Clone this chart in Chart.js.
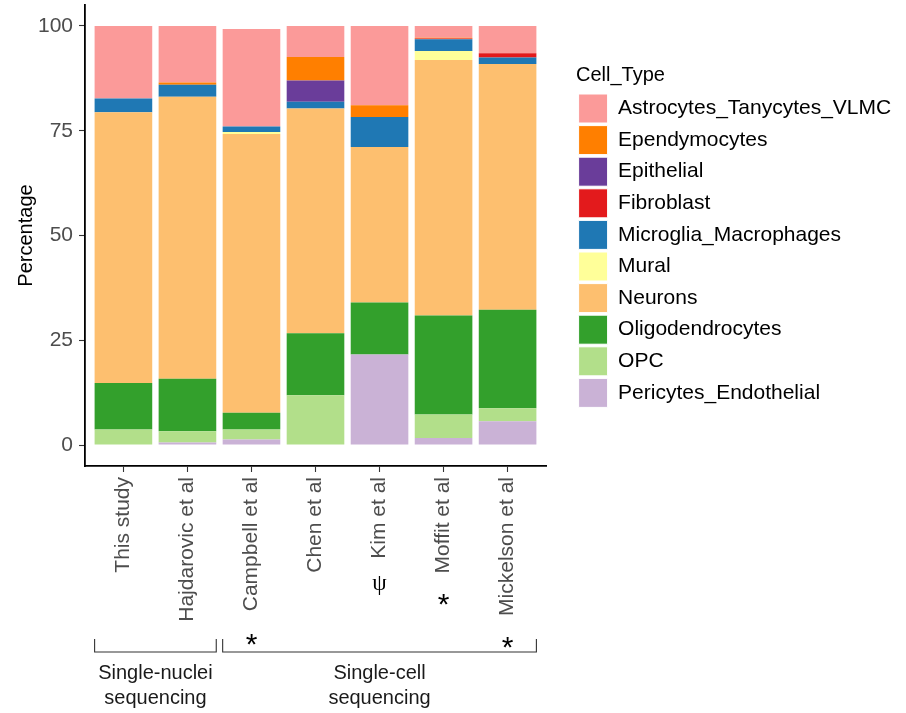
<!DOCTYPE html>
<html>
<head>
<meta charset="utf-8">
<script src="https://cdn.jsdelivr.net/npm/chart.js@4.4.1/dist/chart.umd.min.js"></script>
<style>
  html, body { margin: 0; padding: 0; background: #ffffff; }
  #wrap { position: relative; width: 906px; height: 713px; }
</style>
</head>
<body>
<div id="wrap"><canvas id="cellTypes" width="906" height="713"></canvas></div>
<script>
// Studies along the x axis
const studies = ['This study', 'Hajdarovic et al', 'Campbell et al', 'Chen et al', 'Kim et al', 'Moffit et al', 'Mickelson et al'];

// Percentage of cells per type in each study (bottom of the stack first)
const pericytesEndothelial    = [0,    0.6,  1.3,  0,    21.6, 1.7,  5.7];
const opc                     = [3.7,  2.7,  2.4,  11.9, 0,    5.6,  3.1];
const oligodendrocytes        = [11.1, 12.5, 4.0,  14.8, 12.4, 23.6, 23.5];
const neurons                 = [64.6, 67.3, 66.5, 53.6, 37.1, 61.0, 58.6];
const mural                   = [0,    0,    0.5,  0,    0,    2.1,  0];
const microgliaMacrophages    = [3.3,  2.9,  1.3,  1.6,  7.2,  2.8,  1.6];
const fibroblast              = [0,    0,    0,    0,    0,    0.2,  1.0];
const epithelial              = [0,    0,    0,    5.1,  0,    0,    0];
const ependymocytes           = [0,    0.5,  0,    5.6,  2.8,  0.2,  0];
const astrocytesTanycytesVLMC = [17.3, 13.5, 23.3, 7.4,  18.9, 2.8,  6.5];

const yTicks = [0, 25, 50, 75, 100];

// Footnote symbols under the study names
const studyMarks = ['', '', '*', '', 'ψ', '*', '*'];

// Sequencing groups (first and last study index)
const groupLabels = [['Single-nuclei', 'sequencing'], ['Single-cell', 'sequencing']];
const groupFirst = [0, 2];
const groupLast  = [1, 6];

// Brewer "Paired" colours
const palette = {
  'Pericytes_Endothelial': '#CAB2D6',
  'OPC': '#B2DF8A',
  'Oligodendrocytes': '#33A02C',
  'Neurons': '#FDBF6F',
  'Mural': '#FFFF99',
  'Microglia_Macrophages': '#1F78B4',
  'Fibroblast': '#E31A1C',
  'Epithelial': '#6A3D9A',
  'Ependymocytes': '#FF7F00',
  'Astrocytes_Tanycytes_VLMC': '#FB9A99'
};

const stackOrder = [
  ['Pericytes_Endothelial', pericytesEndothelial],
  ['OPC', opc],
  ['Oligodendrocytes', oligodendrocytes],
  ['Neurons', neurons],
  ['Mural', mural],
  ['Microglia_Macrophages', microgliaMacrophages],
  ['Fibroblast', fibroblast],
  ['Epithelial', epithelial],
  ['Ependymocytes', ependymocytes],
  ['Astrocytes_Tanycytes_VLMC', astrocytesTanycytesVLMC]
];

const FONT = '"Liberation Sans", Arial, Helvetica, sans-serif';

const datasets = stackOrder.map(([name, values]) => ({
  label: name,
  data: values.map((v, i) => ({ x: i + 1, y: v })),
  backgroundColor: palette[name],
  borderWidth: 0,
  barPercentage: 0.9,
  categoryPercentage: 1.0
}));

// Keeps the legend column clear of the plot panel and level with it
const legendPlacement = {
  id: 'legendPlacement',
  beforeLayout(chart) {
    const lg = chart.legend;
    if (lg && !lg.__sized) {
      const fit = lg.fit;
      lg.fit = function () { fit.call(this); this.width = 360; };
      lg.__sized = true;
    }
  },
  afterLayout(chart) {
    const lg = chart.legend;
    if (!lg) return;
    lg.left = chart.chartArea.right + 30;
    lg.top = chart.chartArea.top;
    lg.bottom = chart.chartArea.bottom;
  }
};

// Brackets, group names and footnote symbols below the axis labels
const studyAnnotations = {
  id: 'studyAnnotations',
  afterDraw(chart) {
    const { ctx, chartArea, scales } = chart;
    const x = scales.x;
    const base = chartArea.bottom;
    ctx.save();
    groupLabels.forEach((lines, g) => {
      const x0 = x.getPixelForValue(groupFirst[g] + 1 - 0.45);
      const x1 = x.getPixelForValue(groupLast[g] + 1 + 0.45);
      const yTop = base + 173, yLine = base + 186;
      ctx.strokeStyle = '#333333';
      ctx.lineWidth = 1.1;
      ctx.beginPath();
      ctx.moveTo(x0, yTop);
      ctx.lineTo(x0, yLine);
      ctx.lineTo(x1, yLine);
      ctx.lineTo(x1, yTop);
      ctx.stroke();
      ctx.fillStyle = '#1a1a1a';
      ctx.font = '20px ' + FONT;
      ctx.textAlign = 'center';
      ctx.textBaseline = 'alphabetic';
      lines.forEach((t, k) => ctx.fillText(t, (x0 + x1) / 2, base + 213 + k * 25));
    });
    const markDepth = [0, 0, 171, 0, 118, 131, 174];
    studyMarks.forEach((m, i) => {
      if (!m) return;
      const px = x.getPixelForValue(i + 1);
      ctx.fillStyle = '#000000';
      ctx.textAlign = 'center';
      ctx.textBaseline = 'alphabetic';
      if (m === 'ψ') {
        ctx.font = '23px "Liberation Serif", "DejaVu Serif", serif';
        ctx.fillText(m, px, base + markDepth[i] + 6);
      } else {
        ctx.font = '30px ' + FONT;
        ctx.fillText(m, px, base + markDepth[i] + 17);
      }
    });
    ctx.restore();
  }
};

new Chart(document.getElementById('cellTypes'), {
  type: 'bar',
  data: { datasets },
  plugins: [legendPlacement, studyAnnotations],
  options: {
    responsive: false,
    animation: false,
    events: [],
    devicePixelRatio: 1,
    layout: { padding: { left: 0, top: 5, right: 0, bottom: 0 } },
    plugins: {
      tooltip: { enabled: false },
      legend: {
        position: 'right',
        align: 'center',
        reverse: true,
        title: {
          display: true,
          text: 'Cell_Type',
          position: 'start',
          color: '#000000',
          font: { family: FONT, size: 20 },
          padding: { top: 4, bottom: 2.4 }
        },
        labels: {
          boxWidth: 29,
          boxHeight: 29,
          padding: 2.6,
          color: '#000000',
          font: { family: FONT, size: 21 },
          generateLabels(chart) {
            const items = Chart.defaults.plugins.legend.labels.generateLabels(chart);
            items.forEach(it => { it.lineWidth = 1; it.strokeStyle = '#ffffff'; });
            return items;
          }
        }
      }
    },
    scales: {
      x: {
        type: 'linear',
        stacked: true,
        offset: false,
        min: 0.4,
        max: 7.6,
        afterBuildTicks(scale) { scale.ticks = studies.map((_, i) => ({ value: i + 1 })); },
        afterFit(scale) { scale.height = 247; },
        grid: { display: true, drawOnChartArea: false, drawTicks: true, tickLength: 6, tickColor: '#333333', tickWidth: 1.1, offset: false },
        border: { display: true, color: '#000000', width: 1.8 },
        ticks: {
          autoSkip: false,
          minRotation: 90,
          maxRotation: 90,
          padding: 5,
          color: '#4d4d4d',
          font: { family: FONT, size: 21 },
          callback: (v) => studies[v - 1]
        }
      },
      y: {
        stacked: true,
        min: -5,
        max: 105,
        afterBuildTicks(scale) { scale.ticks = yTicks.map(v => ({ value: v })); },
        afterFit(scale) {
          scale.width = 85;
          scale.paddingTop = 0;
          scale.paddingBottom = 0;
        },
        grid: { display: true, drawOnChartArea: false, drawTicks: true, tickLength: 6, tickColor: '#333333', tickWidth: 1.1 },
        border: { display: true, color: '#000000', width: 1.8 },
        title: {
          display: true,
          text: 'Percentage',
          color: '#000000',
          font: { family: FONT, size: 20 },
          padding: { top: 14, bottom: 0 }
        },
        ticks: {
          padding: 6,
          color: '#4d4d4d',
          font: { family: FONT, size: 21 }
        }
      }
    }
  }
});
</script>
</body>
</html>
